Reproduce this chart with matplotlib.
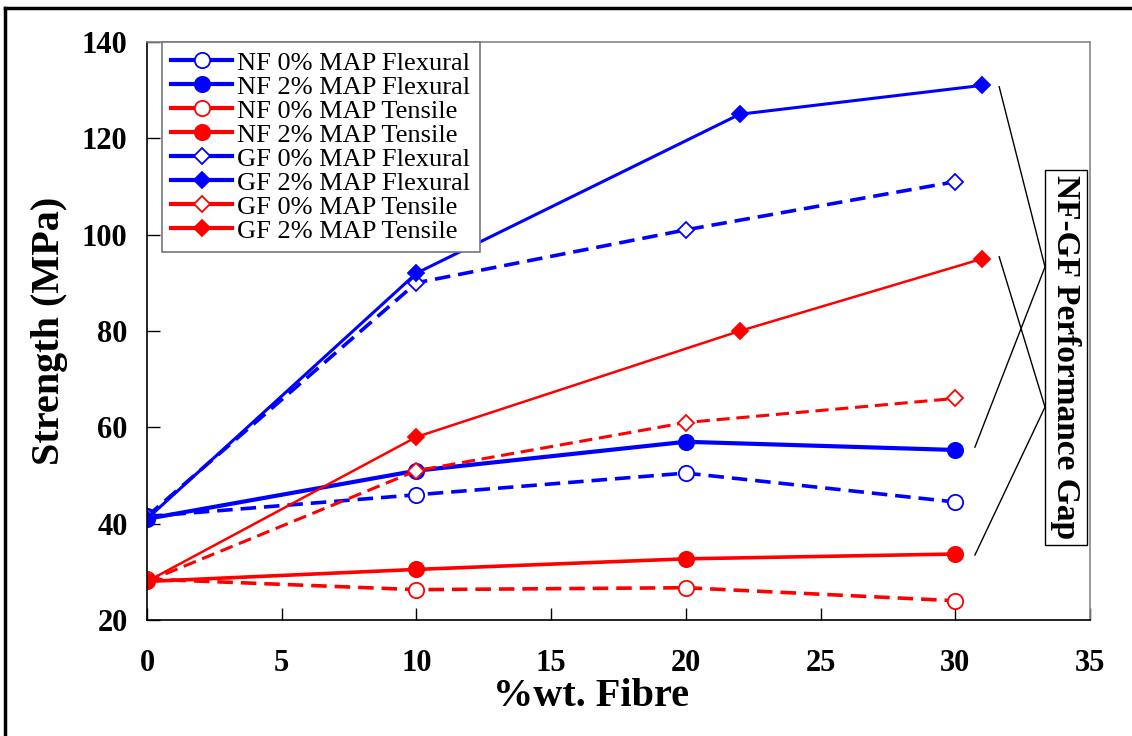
import matplotlib
matplotlib.use("Agg")
import matplotlib.pyplot as plt
from matplotlib.lines import Line2D

# =====================================================
# DATA
# =====================================================

nf_x = [0, 10, 20, 30]
nf0_flex = [41.5, 46.0, 50.5, 44.5]
nf2_flex = [41.0, 51.0, 57.0, 55.3]
nf0_tens = [28.5, 26.3, 26.7, 24.0]
nf2_tens = [28.0, 30.5, 32.7, 33.7]

gf0_x = [0, 10, 20, 30]
gf0_flex = [41.5, 90.0, 101.0, 111.0]
gf0_tens = [28.0, 51.0, 61.0, 66.0]

gf2_x = [0, 10, 22, 31]
gf2_flex = [41.0, 92.0, 125.0, 131.0]
gf2_tens = [28.0, 58.0, 80.0, 95.0]

labels = [
    "NF 0% MAP Flexural",
    "NF 2% MAP Flexural",
    "NF 0% MAP Tensile",
    "NF 2% MAP Tensile",
    "GF 0% MAP Flexural",
    "GF 2% MAP Flexural",
    "GF 0% MAP Tensile",
    "GF 2% MAP Tensile",
]

gap_label = "NF-GF Performance Gap"

# =====================================================
# FIGURE
# =====================================================

plt.rcParams["font.family"] = ["Liberation Serif", "DejaVu Serif"]

fig = plt.figure(figsize=(11.32, 7.36), dpi=100)
ax = fig.add_axes([147 / 1132, 116 / 736, 943 / 1132, 578 / 736])

blue = "#0000ff"
red = "#ff0000"
dash = (4.3, 2.2)

# series: (x, y, colour, marker, filled, dashed, lw)
series = [
    (nf_x, nf0_flex, blue, "o", False, True, 2.6),
    (nf_x, nf2_flex, blue, "o", True, False, 3.0),
    (nf_x, nf0_tens, red, "o", False, True, 2.6),
    (nf_x, nf2_tens, red, "o", True, False, 2.6),
    (gf0_x, gf0_flex, blue, "D", False, True, 2.6),
    (gf2_x, gf2_flex, blue, "D", True, False, 2.2),
    (gf0_x, gf0_tens, red, "D", False, True, 2.2),
    (gf2_x, gf2_tens, red, "D", True, False, 1.8),
]

handles = []
for (x, y, c, m, filled, dashed, lw), lab in zip(series, labels):
    ms = 11 if m == "o" else 8.3
    kw = dict(
        color=c,
        marker=m,
        markersize=ms,
        markerfacecolor=c if filled else "white",
        markeredgecolor=c,
        markeredgewidth=1.3,
        linewidth=lw,
    )
    line, = ax.plot(x, y, **kw)
    if dashed:
        line.set_dashes(dash)
    handles.append(Line2D([], [], label=lab, **{**kw, "linewidth": 3.0}))

# =====================================================
# AXES
# =====================================================

ax.set_xlim(0, 35)
ax.set_ylim(20, 140)
ax.set_xticks(range(0, 36, 5))
ax.set_yticks(range(20, 141, 20))

ax.tick_params(axis="both", direction="in", length=9, width=1,
               labelsize=22)
ax.tick_params(axis="x", pad=21)
ax.tick_params(axis="y", pad=14)
for t in ax.get_xticklabels() + ax.get_yticklabels():
    t.set_fontweight("bold")

ax.spines["left"].set_color("black")
ax.spines["bottom"].set_color("black")
ax.spines["top"].set_color("#888888")
ax.spines["right"].set_color("#888888")
for s in ax.spines.values():
    s.set_linewidth(1.2)

ax.set_xlabel("%wt. Fibre", fontsize=29, fontweight="bold")
ax.xaxis.set_label_coords(0.471, -0.1)
ax.set_ylabel("Strength (MPa)", fontsize=29, fontweight="bold", labelpad=10)

leg = ax.legend(
    handles=handles,
    loc="upper left",
    bbox_to_anchor=(0.016, 1.0),
    borderaxespad=0,
    fontsize=19,
    frameon=True,
    fancybox=False,
    framealpha=1,
    edgecolor="#777777",
    handlelength=2.3,
    handletextpad=0.2,
    labelspacing=0.02,
    borderpad=0.35,
)
leg.get_frame().set_linewidth(1.2)

# =====================================================
# PERFORMANCE GAP ANNOTATION
# =====================================================

ax.text(
    34.1, 74.5, gap_label,
    rotation=-90,
    ha="center", va="center",
    fontsize=24, fontweight="bold",
    bbox=dict(boxstyle="square,pad=0.17", facecolor="white",
              edgecolor="black", linewidth=1.0),
    clip_on=False,
)

ax.plot([31.63, 33.33, 30.73], [130.7, 93.3, 55.9],
        color="black", lw=1.0, clip_on=False)
ax.plot([31.63, 33.33, 30.73], [95.4, 64.2, 33.5],
        color="black", lw=1.0, clip_on=False)

# =====================================================
# FIGURE BORDER (left and top)
# =====================================================

fig.add_artist(Line2D([5 / 1132, 5 / 1132], [0, 1 - 8 / 736],
                      color="black", lw=2.5))
fig.add_artist(Line2D([5 / 1132, 1], [1 - 8 / 736, 1 - 8 / 736],
                      color="black", lw=2.5))

fig.savefig("out.png", dpi=100)
